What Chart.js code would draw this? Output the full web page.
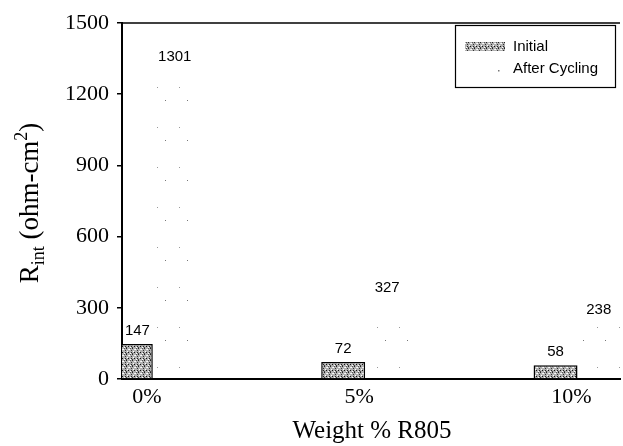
<!DOCTYPE html>
<html lang="en">
<head>
<meta charset="UTF-8">
<title>Rint vs Weight % R805</title>
<script src="https://cdn.jsdelivr.net/npm/chart.js"></script>
<style>
  html, body { margin: 0; padding: 0; background: #fff; }
</style>
</head>
<body>
<canvas id="chart" width="623" height="446"></canvas>
<script>
// data
const categories = ['0%', '5%', '10%'];
const initialValues = [147, 72, 58];
const cyclingValues = [1301, 327, 238];
const yTicks = [0, 300, 600, 900, 1200, 1500];
const seriesNames = ['Initial', 'After Cycling'];

const canvas = document.getElementById('chart');
const ctx = canvas.getContext('2d');

// little stipple tiles to mimic the scanned hatch fills
function makePattern(w, h, bg, dots) {
    const c = document.createElement('canvas');
    c.width = w; c.height = h;
    const g = c.getContext('2d');
    g.fillStyle = bg;
    g.fillRect(0, 0, w, h);
    dots.forEach(d => { g.fillStyle = d[2]; g.fillRect(d[0], d[1], 1, 1); });
    return ctx.createPattern(c, 'repeat');
}
const initialFill = makePattern(6, 6, '#b0b0b0', [
    [0, 0, '#222'], [3, 1, '#fff'], [5, 2, '#333'], [1, 3, '#fff'], [2, 4, '#111'],
    [4, 5, '#fff'], [4, 0, '#555'], [0, 5, '#444'], [2, 1, '#eee'], [5, 4, '#222']
]);
const cyclingFill = makePattern(22, 40, 'rgba(255,255,255,0)', [[11, 20, '#777'], [3, 7, '#999']]);

const serif = '"Liberation Serif", "Times New Roman", serif';
const sans = '"Liberation Sans", Arial, sans-serif';

const decor = {
    id: 'decor',
    afterDatasetsDraw(chart) {
        const c = chart.ctx;
        const area = chart.chartArea;
        c.save();
        // top frame line
        c.strokeStyle = '#000';
        c.lineWidth = 1.5;
        c.beginPath();
        c.moveTo(area.left, area.top);
        c.lineTo(area.right, area.top);
        c.stroke();

        // value labels above bars
        c.fillStyle = '#000';
        c.font = '15px ' + sans;
        c.textAlign = 'center';
        c.textBaseline = 'alphabetic';
        chart.data.datasets.forEach((ds, di) => {
            chart.getDatasetMeta(di).data.forEach((el, i) => {
                const l = Math.max(el.x - el.width / 2, area.left);
                const r = Math.min(el.x + el.width / 2, area.right);
                c.fillText(String(ds.data[i].y), (l + r) / 2, el.y - 9);
            });
        });

        // legend box
        c.lineWidth = 1.2;
        c.strokeRect(455.5, 25.5, 160, 62);
        c.fillStyle = initialFill;
        c.fillRect(465, 42, 40, 9);
        c.fillStyle = '#777';
        c.fillRect(498, 70, 1.5, 1.5);
        c.fillStyle = '#000';
        c.textAlign = 'left';
        c.textBaseline = 'middle';
        c.fillText(seriesNames[0], 513, 47);
        c.fillText(seriesNames[1], 513, 69);

        // x title
        c.font = '25px ' + serif;
        c.textAlign = 'center';
        c.fillText('Weight % R805', 372, 431);

        // y title with sub/superscript
        c.translate(30, 203);
        c.rotate(-Math.PI / 2);
        const parts = [
            ['R', 27, 0], ['int', 18, 6], [' (ohm-cm', 27, 0], ['2', 18, -11], [')', 27, 0]
        ];
        let total = 0;
        parts.forEach(p => { c.font = p[1] + 'px ' + serif; total += c.measureText(p[0]).width; });
        let x = -total / 2;
        c.textAlign = 'left';
        c.textBaseline = 'alphabetic';
        parts.forEach(p => {
            c.font = p[1] + 'px ' + serif;
            c.fillText(p[0], x, 8 + p[2]);
            x += c.measureText(p[0]).width;
        });
        c.restore();
    }
};

new Chart(ctx, {
    type: 'bar',
    data: {
        datasets: [
            {
                label: seriesNames[0],
                data: initialValues.map((v, i) => ({ x: i, y: v })),
                backgroundColor: initialFill,
                borderColor: '#000',
                borderWidth: 1.5,
                categoryPercentage: 0.414,
                barPercentage: 1
            },
            {
                label: seriesNames[1],
                data: cyclingValues.map((v, i) => ({ x: i, y: v })),
                backgroundColor: cyclingFill,
                borderWidth: 0,
                categoryPercentage: 0.414,
                barPercentage: 1
            }
        ]
    },
    options: {
        responsive: false,
        animation: false,
        layout: { padding: { top: 23, right: 3, left: 0, bottom: 0 } },
        plugins: { legend: { display: false }, tooltip: { enabled: false } },
        scales: {
            x: {
                type: 'linear',
                offset: false,
                min: -0.145,
                max: 2.2,
                afterBuildTicks: s => { s.ticks = categories.map((c, i) => ({ value: i })); },
                afterFit: s => { s.height = 67; },
                grid: { display: false, drawTicks: false },
                border: { color: '#000', width: 2 },
                ticks: {
                    callback: v => categories[v],
                    font: { family: serif, size: 22 },
                    color: '#000',
                    padding: 5,
                    labelOffset: -6,
                    maxRotation: 0,
                    autoSkip: false
                }
            },
            y: {
                min: 0,
                max: 1500,
                afterBuildTicks: s => { s.ticks = yTicks.map(v => ({ value: v })); },
                afterFit: s => { s.width = 122; },
                grid: { drawOnChartArea: false, tickLength: 5, color: '#000', lineWidth: 1.5 },
                border: { color: '#000', width: 2 },
                ticks: {
                    callback: v => String(v),
                    font: { family: serif, size: 22 },
                    color: '#000',
                    padding: 8
                }
            }
        }
    },
    plugins: [decor]
});
</script>
</body>
</html>
